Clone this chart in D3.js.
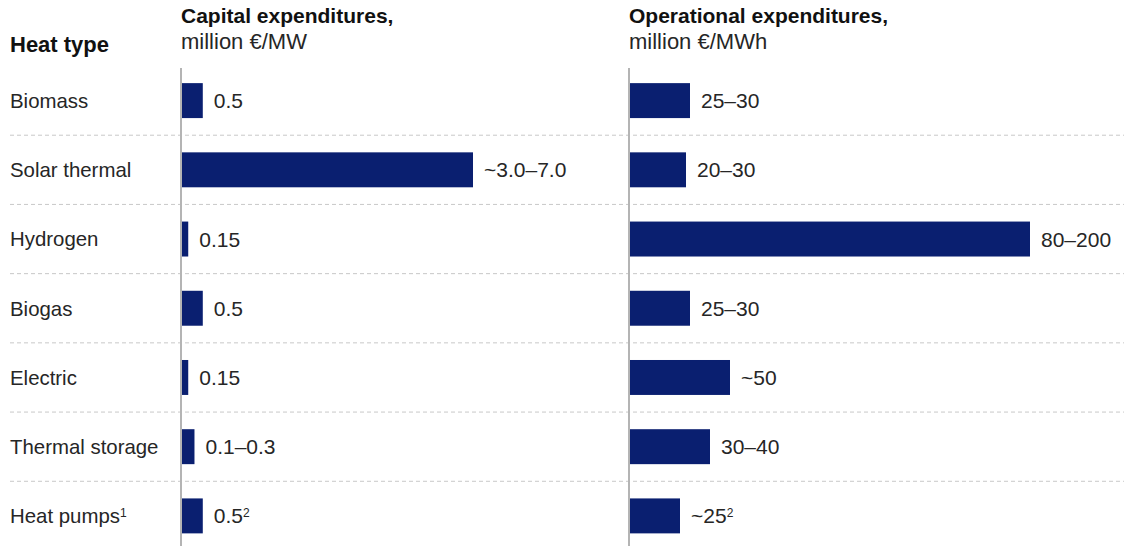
<!DOCTYPE html>
<html>
<head>
<meta charset="utf-8">
<script src="https://cdn.jsdelivr.net/npm/d3@7"></script>
<style>
  html, body { margin: 0; padding: 0; background: #ffffff; }
  svg { display: block; font-family: "Liberation Sans", Arial, sans-serif; }
</style>
</head>
<body>
<svg id="chart" width="1134" height="546"></svg>
<script>
// Heat types, top to bottom
const heatTypes = ["Biomass", "Solar thermal", "Hydrogen", "Biogas", "Electric", "Thermal storage", "Heat pumps"];
const heatTypeNotes = ["", "", "", "", "", "", "1"];

// Capital expenditures, million €/MW (bar length = upper end of the stated range)
const capexValues = [0.5, 7.0, 0.15, 0.5, 0.15, 0.3, 0.5];
const capexLabels = ["0.5", "~3.0–7.0", "0.15", "0.5", "0.15", "0.1–0.3", "0.5"];
const capexNotes  = ["", "", "", "", "", "", "2"];

// Operational expenditures, million €/MWh
const opexValues = [30, 28, 200, 30, 50, 40, 25];
const opexLabels = ["25–30", "20–30", "80–200", "25–30", "~50", "30–40", "~25"];
const opexNotes  = ["", "", "", "", "", "", "2"];

const W = 1134, H = 546;
const barColor = "#0a1f70";
const textColor = "#262626";

const svg = d3.select("#chart");

const y = d3.scaleBand()
  .domain(heatTypes)
  .range([66, 550.5])
  .paddingInner(0.495)
  .paddingOuter(0.2475);

const xCapex = d3.scaleLinear().domain([0, 7]).range([182, 473]);
const xOpex  = d3.scaleLinear().domain([0, 200]).range([630, 1030]);

const rows = heatTypes.map((t, i) => ({
  type: t, note: heatTypeNotes[i],
  capex: capexValues[i], capexLabel: capexLabels[i], capexNote: capexNotes[i],
  opex: opexValues[i], opexLabel: opexLabels[i], opexNote: opexNotes[i]
}));

// dashed separators between rows
const step = y.step();
svg.append("g")
  .selectAll("line")
  .data(heatTypes.slice(0, -1))
  .join("line")
  .attr("x1", 10).attr("x2", 1124)
  .attr("y1", d => y(d) + y.bandwidth() / 2 + step / 2)
  .attr("y2", d => y(d) + y.bandwidth() / 2 + step / 2)
  .attr("stroke", "#c8c8c8")
  .attr("stroke-width", 1)
  .attr("stroke-dasharray", "4,3");

// headers
const head = svg.append("g").attr("fill", "#111111");
head.append("text").attr("x", 10).attr("y", 52)
  .attr("font-size", 22).attr("font-weight", "bold").text("Heat type");

function panelTitle(x, title, unit) {
  head.append("text").attr("x", x).attr("y", 23)
    .attr("font-size", 21).attr("font-weight", "bold").text(title);
  head.append("text").attr("x", x).attr("y", 49)
    .attr("font-size", 22).attr("fill", textColor).text(unit);
}
panelTitle(181, "Capital expenditures,", "million €/MW");
panelTitle(629, "Operational expenditures,", "million €/MWh");

// category labels
const cat = svg.append("g").selectAll("text")
  .data(rows)
  .join("text")
  .attr("x", 10)
  .attr("y", d => y(d.type) + y.bandwidth() / 2)
  .attr("dy", "0.36em")
  .attr("font-size", 20.4)
  .attr("fill", textColor);
cat.append("tspan").text(d => d.type);
cat.filter(d => d.note).append("tspan")
  .attr("dy", "-0.55em").attr("font-size", 12).text(d => d.note);

// one panel of bars
function drawPanel(x, valueKey, labelKey, noteKey, axisX) {
  const g = svg.append("g");
  g.selectAll("rect")
    .data(rows)
    .join("rect")
    .attr("x", x(0))
    .attr("y", d => y(d.type))
    .attr("width", d => x(d[valueKey]) - x(0))
    .attr("height", y.bandwidth())
    .attr("fill", barColor);

  const lbl = g.selectAll("text")
    .data(rows)
    .join("text")
    .attr("x", d => x(d[valueKey]) + 11)
    .attr("y", d => y(d.type) + y.bandwidth() / 2)
    .attr("dy", "0.36em")
    .attr("font-size", 21)
    .attr("fill", textColor);
  lbl.append("tspan").text(d => d[labelKey]);
  lbl.filter(d => d[noteKey]).append("tspan")
    .attr("dy", "-0.55em").attr("font-size", 12).text(d => d[noteKey]);

  g.append("line")
    .attr("x1", axisX).attr("x2", axisX)
    .attr("y1", 68).attr("y2", H)
    .attr("stroke", "#b4b4b4")
    .attr("stroke-width", 2);
}

drawPanel(xCapex, "capex", "capexLabel", "capexNote", 181);
drawPanel(xOpex, "opex", "opexLabel", "opexNote", 629);
</script>
</body>
</html>
